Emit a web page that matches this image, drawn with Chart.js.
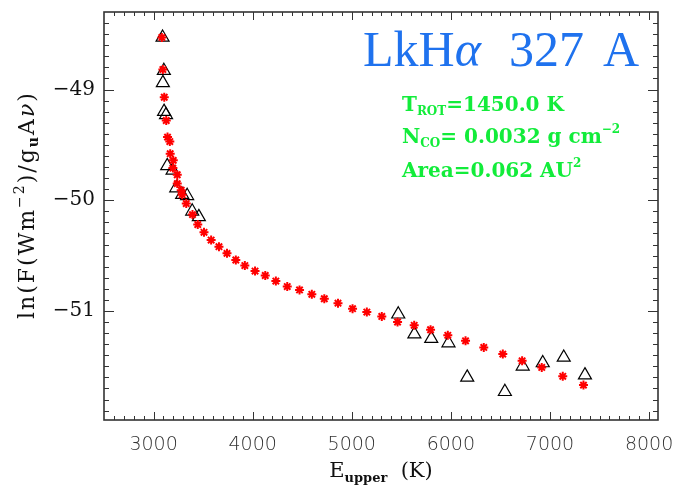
<!DOCTYPE html>
<html>
<head>
<meta charset="utf-8">
<script src="https://cdn.jsdelivr.net/npm/chart.js@4.4.0/dist/chart.umd.min.js"></script>
<style>
  html, body { margin: 0; padding: 0; background: #fff; }
  canvas { display: block; }
</style>
</head>
<body>
<canvas id="rotDiagram" width="678" height="491"></canvas>
<script>
// model fit, red asterisks
var modelE = [3084, 3094, 3108, 3128, 3141, 3164, 3168, 3199, 3195, 3239, 3239, 3279, 3289, 3330,
    3393, 3446, 3509, 3581, 3660, 3741, 3830, 3921, 4024, 4127, 4234, 4349, 4473, 4597, 4723,
    4861, 5008, 5152, 5303, 5462, 5630, 5795, 5969, 6148, 6332, 6524, 6719, 6917, 7129, 7338];
var modelLnF = [-48.53, -48.82, -49.07, -49.28, -49.43, -49.47, -49.58, -49.64, -49.71, -49.77,
    -49.85, -49.91, -49.95, -50.03, -50.13, -50.22, -50.29, -50.36, -50.42, -50.48, -50.54,
    -50.59, -50.64, -50.68, -50.73, -50.78, -50.81, -50.85, -50.89, -50.93, -50.98, -51.01,
    -51.05, -51.10, -51.13, -51.17, -51.22, -51.27, -51.33, -51.39, -51.45, -51.51, -51.59, -51.67];

// measured lines, open triangles
var obsE = [3091, 3104, 3094, 3106, 3126, 3138, 3192, 3229, 3289, 3339, 3390, 3457,
    5469, 5632, 5802, 5976, 6165, 6545, 6725, 6927, 7139, 7353];
var obsLnF = [-48.53, -48.83, -48.94, -49.20, -49.23, -49.69, -49.73, -49.89, -49.95, -49.96,
    -50.10, -50.15, -51.03, -51.21, -51.25, -51.29, -51.60, -51.73, -51.50, -51.47, -51.42, -51.58];

var xTicks = [3000, 4000, 5000, 6000, 7000, 8000];
var yTicks = [-51, -50, -49];

var xRange = [2500, 8090];
var yRange = [-51.985, -48.30];

function toPoints(xs, ys) {
    return xs.map(function (x, i) { return { x: x, y: ys[i] }; });
}

// draws a run of text pieces (for sub/superscripts), returns the end x
function drawPieces(ctx, pieces, x, y, measureOnly) {
    var cx = x;
    pieces.forEach(function (p) {
        ctx.font = p.font;
        if (!measureOnly) ctx.fillText(p.t, cx, y + (p.dy || 0));
        cx += ctx.measureText(p.t).width;
    });
    return cx;
}

var serif = "'DejaVu Serif', serif";

var decorations = {
    id: 'decorations',
    afterDraw: function (chart) {
        var ctx = chart.ctx;
        var area = chart.chartArea;
        var xs = chart.scales.x, ys = chart.scales.y;

        ctx.save();
        // frame and inward ticks
        ctx.strokeStyle = '#333';
        ctx.lineWidth = 1.6;
        ctx.strokeRect(area.left, area.top, area.right - area.left, area.bottom - area.top);

        ctx.lineWidth = 1;
        ctx.beginPath();
        for (var v = 2600; v <= 8000; v += 100) {
            var px = Math.round(xs.getPixelForValue(v)) + 0.5;
            var len = v % 1000 === 0 ? 8 : 4;
            ctx.moveTo(px, area.bottom); ctx.lineTo(px, area.bottom - len);
            ctx.moveTo(px, area.top); ctx.lineTo(px, area.top + len);
        }
        for (var k = -519; k <= -484; k++) {
            var py = Math.round(ys.getPixelForValue(k / 10)) + 0.5;
            var len2 = k % 10 === 0 ? 10 : 5;
            ctx.moveTo(area.left, py); ctx.lineTo(area.left + len2, py);
            ctx.moveTo(area.right, py); ctx.lineTo(area.right - len2, py);
        }
        ctx.stroke();

        ctx.textBaseline = 'alphabetic';
        ctx.textAlign = 'left';
        ctx.fillStyle = '#111';

        // x axis title
        var xTitle = [
            { t: 'E', font: '21px ' + serif },
            { t: 'upper', font: 'bold 13px ' + serif, dy: 5 },
            { t: '  (K)', font: '21px ' + serif }
        ];
        var w = drawPieces(ctx, xTitle, 0, 0, true);
        var cx = (area.left + area.right) / 2;
        drawPieces(ctx, xTitle, cx - w / 2, 477);

        // y axis title
        ctx.save();
        ctx.translate(34, 319);
        ctx.rotate(-Math.PI / 2);
        ctx.letterSpacing = '2px';
        drawPieces(ctx, [
            { t: 'ln(F(Wm', font: '22px ' + serif },
            { t: '\u22122', font: '14px ' + serif, dy: -10 },
            { t: ')/g', font: '22px ' + serif },
            { t: 'u', font: 'bold 14px ' + serif, dy: 4 },
            { t: 'A', font: '22px ' + serif },
            { t: '\u03bd', font: 'italic 22px ' + serif },
            { t: ')', font: '22px ' + serif }
        ], 0, 0);
        ctx.restore();

        // star name
        ctx.fillStyle = '#1f72ee';
        drawPieces(ctx, [
            { t: 'LkH', font: "50px 'Liberation Serif', serif" },
            { t: '\u03b1', font: "italic 50px 'Liberation Serif', serif" }
        ], 363, 66);
        ctx.font = "50px 'Liberation Serif', serif";
        ctx.fillText('327', 509, 66);
        ctx.fillText('A', 603, 66);

        // fit results
        ctx.fillStyle = '#12ec3a';
        var g = "bold 20px " + serif, gs = "bold 12px " + serif;
        drawPieces(ctx, [
            { t: 'T', font: g }, { t: 'ROT', font: gs, dy: 4 },
            { t: '=1450.0 K', font: g }
        ], 402, 111);
        drawPieces(ctx, [
            { t: 'N', font: g }, { t: 'CO', font: gs, dy: 4 },
            { t: '= 0.0032 g cm', font: g }, { t: '\u22122', font: gs, dy: -10 }
        ], 402, 143);
        drawPieces(ctx, [
            { t: 'Area=0.062 AU', font: g }, { t: '2', font: gs, dy: -10 }
        ], 402, 177);
        ctx.restore();
    }
};

function noScalePadding(scale) {
    scale.paddingTop = 0;
    scale.paddingBottom = 0;
    scale.paddingLeft = 0;
    scale.paddingRight = 0;
}

new Chart(document.getElementById('rotDiagram').getContext('2d'), {
    type: 'scatter',
    data: {
        datasets: [
            {
                label: 'model',
                data: toPoints(modelE, modelLnF),
                pointStyle: 'star',
                radius: 4.5,
                borderWidth: 2,
                borderColor: '#ff0000',
                backgroundColor: '#ff0000'
            },
            {
                label: 'observed',
                data: toPoints(obsE, obsLnF),
                pointStyle: 'triangle',
                radius: 7.5,
                borderWidth: 1.2,
                borderColor: '#000',
                backgroundColor: 'rgba(0,0,0,0)'
            }
        ]
    },
    options: {
        responsive: false,
        animation: false,
        devicePixelRatio: 1,
        layout: { padding: { left: 0, right: 20, top: 12, bottom: 0 } },
        plugins: {
            legend: { display: false },
            tooltip: { enabled: false }
        },
        scales: {
            x: {
                type: 'linear',
                min: xRange[0],
                max: xRange[1],
                grid: { display: false, drawTicks: false },
                border: { display: false },
                afterBuildTicks: function (scale) {
                    scale.ticks = xTicks.map(function (v) { return { value: v }; });
                },
                afterFit: function (scale) {
                    scale.height = 71;
                    noScalePadding(scale);
                },
                ticks: {
                    autoSkip: false,
                    maxRotation: 0,
                    padding: 14,
                    color: '#333',
                    font: { family: "'DejaVu Sans'", size: 19, weight: '200' },
                    callback: function (v) { return String(v); }
                }
            },
            y: {
                type: 'linear',
                min: yRange[0],
                max: yRange[1],
                grid: { display: false, drawTicks: false },
                border: { display: false },
                afterBuildTicks: function (scale) {
                    scale.ticks = yTicks.map(function (v) { return { value: v }; });
                },
                afterFit: function (scale) {
                    scale.width = 104;
                    noScalePadding(scale);
                },
                ticks: {
                    autoSkip: false,
                    padding: 9,
                    color: '#111',
                    font: { family: "'DejaVu Serif'", size: 20 },
                    callback: function (v) { return '\u2212' + Math.abs(v); }
                }
            }
        }
    },
    plugins: [decorations]
});
</script>
</body>
</html>
